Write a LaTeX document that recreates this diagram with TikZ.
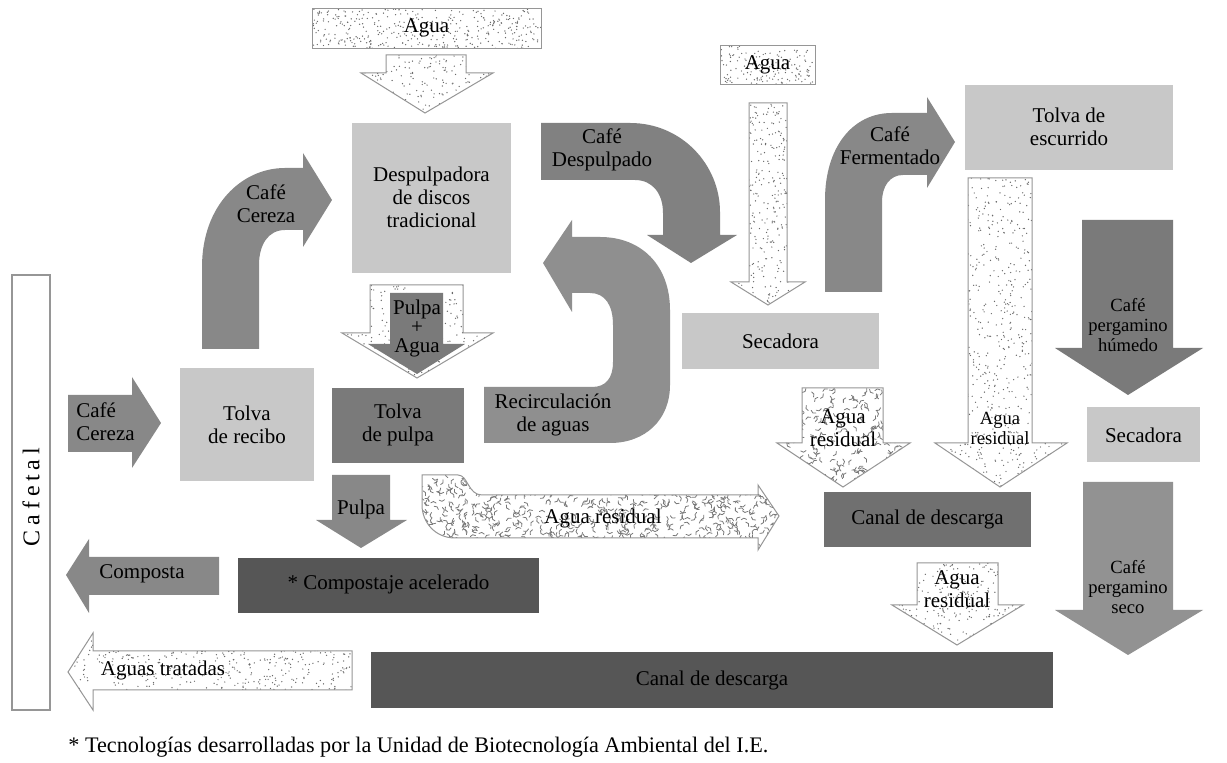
\documentclass[tikz,border=0pt]{standalone}
\usepackage{fontspec}
\setmainfont{Liberation Serif}
\newfontfamily\tnr{Liberation Serif}
\newfontfamily\spacedfont[LetterSpace=20]{Liberation Serif}
\definecolor{lightg}{RGB}{200,200,200}
\definecolor{arrg}{RGB}{136,136,136}
\definecolor{midg}{RGB}{122,122,122}
\definecolor{darkg}{RGB}{86,86,86}
\definecolor{canalg}{RGB}{112,112,112}
\definecolor{recg}{RGB}{143,143,143}
\definecolor{secog}{RGB}{146,146,146}
\definecolor{dotc}{RGB}{105,105,105}
\definecolor{squc}{RGB}{120,120,120}
\definecolor{outc}{RGB}{150,150,150}
\newcommand\dotshape[6]{%
  \fill[white] #1;
  \begin{scope}\clip #1;
    \foreach \k in {1,...,#6}{\fill[dotc] ({#2+rnd*(#4-#2)},{#3+rnd*(#5-#3)}) circle[radius=0.7];}
  \end{scope}
  \draw[outl] #1;}
\newcommand\squshape[6]{%
  \fill[white] #1;
  \begin{scope}\clip #1;
    \foreach \k in {1,...,#6}{\pgfmathsetmacro\ang{rnd*360}
      \draw[squc,line width=0.4pt,line cap=round,line join=round] ({#2+rnd*(#4-#2)},{#3+rnd*(#5-#3)}) -- ++(\ang:3) -- ++(\ang+55:3);}
  \end{scope}
  \draw[outl] #1;}
\begin{document}
\begin{tikzpicture}[x=0.5pt,y=-0.5pt,
  outl/.style={draw=outc,line width=0.5pt},
  lbl/.style={font=\tnr\fontsize{10.5}{11.5}\selectfont,align=center,inner sep=0pt},
  slbl/.style={font=\tnr\fontsize{9.3}{10}\selectfont,align=center,inner sep=0pt},
  boxl/.style={fill=lightg,draw=none,inner sep=0pt},
  boxm/.style={fill=midg,draw=none,inner sep=0pt},
  boxc/.style={fill=canalg,draw=none,inner sep=0pt},
  boxd/.style={fill=darkg,draw=none,inner sep=0pt}]
\useasboundingbox (0,0) rectangle (1227,763);
\fill[white] (0,0) rectangle (1227,763);
\pgfmathsetseed{4711}

% Cafetal
\node[draw=outc,line width=0.6pt,fill=white,minimum width=19pt,minimum height=217.5pt,inner sep=0pt] (cafetal) at (31,492.5) {};
\node[rotate=90,font=\spacedfont\fontsize{12}{12}\selectfont,inner sep=0pt] (cafetaltxt) at (31,497) {Cafetal};

% boxes
\node[boxl,minimum width=79.5pt,minimum height=75pt] (desp) at (431.5,198) {};
\node[lbl] (desptxt) at (431.5,197) {Despulpadora\\de discos\\tradicional};
\node[boxl,minimum width=67pt,minimum height=56.5pt] (recibo) at (247,424.5) {};
\node[lbl] (recibotxt) at (247,425) {Tolva\\de recibo};
\node[boxl,minimum width=98.5pt,minimum height=28pt] (secA) at (780.5,341) {};
\node[lbl] (secAtxt) at (780.5,341) {Secadora};
\node[boxl,minimum width=104pt,minimum height=42.5pt] (escur) at (1069,127.5) {};
\node[lbl] (escurtxt) at (1069,127) {Tolva de\\escurrido};
\node[boxl,minimum width=56.5pt,minimum height=27.5pt] (secB) at (1143.5,434.5) {};
\node[lbl] (secBtxt) at (1143.5,435) {Secadora};
\node[boxm,minimum width=66pt,minimum height=37.5pt] (tpulpa) at (398,425.5) {};
\node[lbl] (tpulpatxt) at (398,425) {Tolva\\de pulpa};
\node[boxc,minimum width=103.5pt,minimum height=27.5pt] (canalA) at (927.5,519.5) {};
\node[lbl] (canalAtxt) at (927.5,519) {Canal de descarga};
\node[boxd,minimum width=150.5pt,minimum height=27.5pt] (compost) at (388.5,585.5) {};
\node[lbl] (composttxt) at (388.5,584) {* Compostaje acelerado};
\node[boxd,minimum width=341pt,minimum height=28pt] (canalB) at (712,680) {};
\node[lbl] (canalBtxt) at (712,680) {Canal de descarga};

% dotted water boxes and arrows
\dotshape{(312,9) rectangle (541,49)}{312}{9}{541}{49}{380}
\node[lbl] (aguatop) at (426.5,28) {Agua};
\dotshape{(386,55) -- (466,55) -- (466,73) -- (493,73) -- (425,113) -- (361,73) -- (386,73) -- cycle}{361}{55}{493}{113}{210}
\dotshape{(720,46) rectangle (815,85)}{720}{46}{815}{85}{150}
\node[lbl] (aguasm) at (767.5,65) {Agua};
\dotshape{(749,103) -- (787,103) -- (787,282) -- (805,282) -- (768,305) -- (731,282) -- (749,282) -- cycle}{731}{103}{805}{305}{450}
\dotshape{(968,178) -- (1032,178) -- (1032,443) -- (1067,443) -- (1000,487) -- (935,443) -- (968,443) -- cycle}{935}{178}{1067}{487}{900}
\node[slbl] (aguaQ) at (1000,428) {Agua\\residual};
\dotshape{(917,563) -- (998,563) -- (998,605) -- (1023,605) -- (957,645) -- (892,605) -- (917,605) -- cycle}{892}{563}{1023}{645}{300}
\node[lbl] (aguaW) at (957,589) {Agua\\residual};
\dotshape{(68,672) -- (93,633) -- (93,651) -- (352,651) -- (352,690) -- (93,690) -- (93,710) -- cycle}{68}{633}{352}{710}{620}
\node[lbl] (tratadas) at (163,670) {Aguas tratadas};

% Pulpa + Agua
\dotshape{(370,285) -- (463,285) -- (463,333) -- (493,333) -- (417,378) -- (342,333) -- (370,333) -- cycle}{342}{285}{493}{378}{300}
\fill[midg] (390,293) -- (443,293) -- (443,344) -- (465,344) -- (417,374) -- (368,344) -- (390,344) -- cycle;
\node[lbl] (pulpaagua) at (417,328) {Pulpa\\[-2pt]+\\[-2pt]Agua};

% squiggle arrows
\squshape{(802,388) -- (883,388) -- (883,443) -- (910,443) -- (843,487) -- (777,443) -- (802,443) -- cycle}{777}{388}{910}{487}{260}
\node[lbl] (aguaU) at (843,428) {Agua\\residual};
\squshape{(422,475) -- (458,475) .. controls (468,475) and (468,495) .. (482,495) -- (758,495) -- (758,485) -- (779,516) -- (758,550) -- (758,538) -- (455,538) .. controls (435,538) and (422,522) .. (422,505) -- cycle}{422}{475}{779}{550}{700}
\node[lbl] (aguaH) at (603,518) {Agua residual};

% grey solid arrows
\fill[arrg] (68,395) -- (132,395) -- (132,377) -- (161,423) -- (132,468) -- (132,452) -- (68,452) -- cycle;
\node[lbl,align=left,anchor=west] (cereza1) at (76,422) {Café\\Cereza};
\fill[arrg] (66,575) -- (89,539) -- (89,557) -- (219,557) -- (219,595) -- (89,595) -- (89,613) -- cycle;
\node[lbl] (composta) at (142,574) {Composta};
\fill[arrg] (332,475) -- (390,475) -- (390,520) -- (407,520) -- (361,548) -- (316,520) -- (332,520) -- cycle;
\node[lbl] (pulpa) at (361,509) {Pulpa};
\fill[midg] (1082,220) -- (1173,220) -- (1173,348) -- (1203,348) -- (1128,395) -- (1055,348) -- (1082,348) -- cycle;
\node[slbl] (humedo) at (1128,325) {Café\\pergamino\\húmedo};
\fill[secog] (1083,482) -- (1173,482) -- (1173,610) -- (1203,610) -- (1128,655) -- (1055,610) -- (1083,610) -- cycle;
\node[slbl] (seco) at (1128,587) {Café\\pergamino\\seco};

% curved arrows
\fill[arrg] (202,349) -- (202,267) .. controls (202,205) and (242,168) .. (285,168) -- (303,168) -- (303,153) -- (332,200) -- (303,247) -- (303,230) -- (285,230) .. controls (268,230) and (259,245) .. (259,265) -- (259,349) -- cycle;
\node[lbl] (cereza2) at (266,204) {Café\\Cereza};
\fill[midg!95!white] (541,123) -- (630,123) .. controls (682,123) and (720,165) .. (720,212) -- (720,235) -- (737,235) -- (691,263) -- (647,235) -- (663,235) -- (663,213) .. controls (663,193) and (652,180) .. (635,180) -- (541,180) -- cycle;
\node[lbl] (despulpado) at (602,150) {Café\\Despulpado};
\fill[arrg] (825,292) -- (825,200) .. controls (825,148) and (852,113) .. (892,113) -- (927,113) -- (927,97) -- (955,142) -- (927,188) -- (927,175) -- (903,175) .. controls (890,175) and (882,186) .. (882,202) -- (882,292) -- cycle;
\node[lbl] (fermentado) at (890,146) {Café\\Fermentado};
\fill[recg] (484,387) -- (592,387) .. controls (606,387) and (613,378) .. (613,362) -- (613,325) .. controls (613,305) and (605,293) .. (590,293) -- (572,293) -- (572,312) -- (543,263) -- (572,220) -- (572,237) -- (600,237) .. controls (642,237) and (670,266) .. (670,310) -- (670,385) .. controls (670,420) and (645,443) .. (610,443) -- (484,443) -- cycle;
\node[lbl] (recirc) at (553,415) {Recirculación\\de aguas};

% footnote
\node[font=\tnr\fontsize{11.1}{12}\selectfont,anchor=west,inner sep=0pt] (nota) at (68,747) {* Tecnologías desarrolladas por la Unidad de Biotecnología Ambiental del I.E.};
\end{tikzpicture}
\end{document}
